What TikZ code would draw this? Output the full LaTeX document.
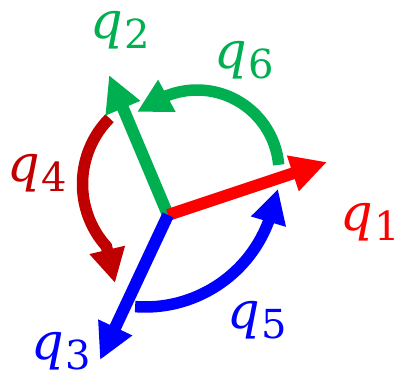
\documentclass[tikz,border=0pt]{standalone}
\usepackage{fontspec}
\newfontfamily\qfont{DejaVu Serif}
\usetikzlibrary{arrows.meta}
\definecolor{qred}{HTML}{FF0000}
\definecolor{qgreen}{HTML}{00B050}
\definecolor{qblue}{HTML}{0000FF}
\definecolor{qdark}{HTML}{C00000}
\newcommand{\qlab}[1]{\textit{q}\kern1pt\raisebox{-10pt}{\fontsize{40}{42}\selectfont #1}}
\tikzset{
  axis/.style={line width=12pt, line cap=butt, -{Triangle[length=36pt,width=35pt]}},
  rot/.style={line width=11.5pt, line cap=butt, -{Triangle[length=34pt,width=34pt]}},
  lab/.style={inner sep=0pt, font=\qfont\fontsize{51}{56}\selectfont}
}
\begin{document}
\begin{tikzpicture}[x=1pt,y=1pt]
\path[use as bounding box] (0,0) rectangle (396,376);
% key points
\coordinate (O) at (168,161);
\coordinate (t1) at (327,214);
\coordinate (t2) at (109,301);
\coordinate (t3) at (100,16);
\coordinate (gc) at (197,204);
\coordinate (gt) at (137,264);
\coordinate (rc) at (176,192);
\coordinate (rt) at (115,93);
\coordinate (bc) at (145,201);
\coordinate (bt) at (278,187);
% rotation arcs
\draw[rot, qgreen] (gc) ++(5:82pt) arc[start angle=5, end angle=111.5, radius=82pt] -- (gt);
\draw[rot, qdark] (rc) ++(135.3:93.5pt) arc[start angle=135.3, end angle=221.9, radius=93.5pt] -- (rt);
\draw[rot, qblue] (bc) ++(265.7:132pt) arc[start angle=265.7, end angle=338.8, radius=132pt] -- (bt);
% axes
\draw[axis, qgreen] (O) -- (t2);
\draw[axis, qred] (O) -- (t1);
\draw[axis, qblue] (O) -- (t3);
% labels
\node[lab, text=qred]   (l1) at (370,154) {\qlab{1}};
\node[lab, text=qgreen] (l2) at (120,346) {\qlab{2}};
\node[lab, text=qblue]  (l3) at (61,25)   {\qlab{3}};
\node[lab, text=qdark]  (l4) at (37,203)  {\qlab{4}};
\node[lab, text=qblue]  (l5) at (257,56)  {\qlab{5}};
\node[lab, text=qgreen] (l6) at (244,316) {\qlab{6}};
\end{tikzpicture}
\end{document}
